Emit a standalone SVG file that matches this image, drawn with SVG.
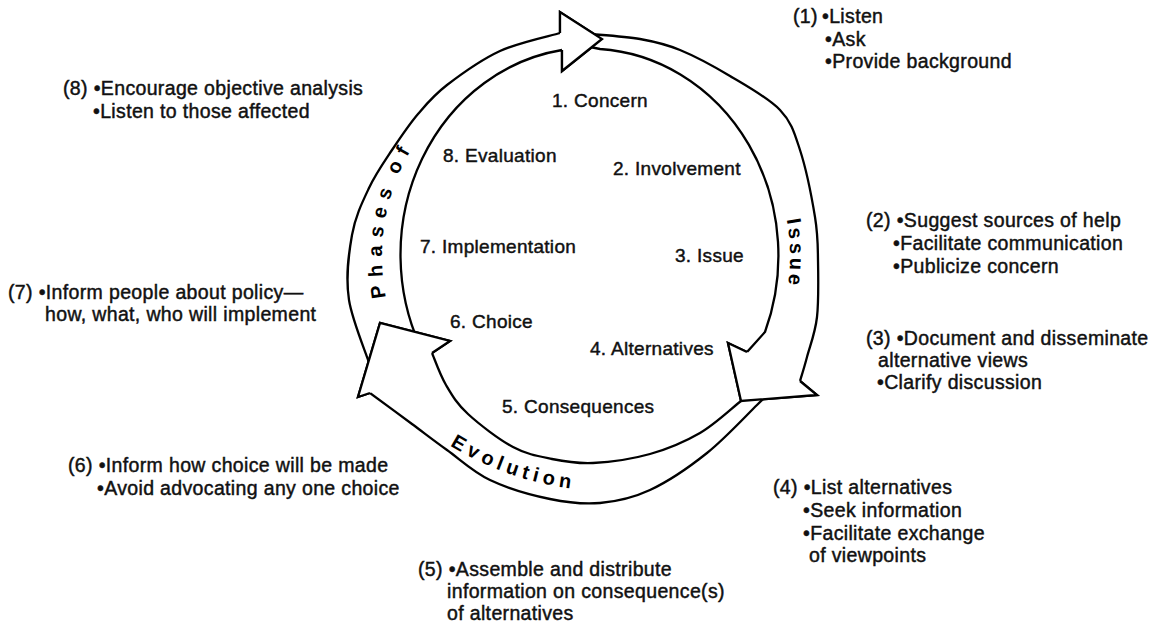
<svg xmlns="http://www.w3.org/2000/svg" width="1158" height="630" viewBox="0 0 1158 630">
<style>
text{font-family:"Liberation Sans",Arial,Helvetica,sans-serif;font-size:19px;fill:#111;stroke:#111;stroke-width:0.45px;letter-spacing:0.3px;}
.side{font-size:19.5px;letter-spacing:0.35px;}
.arc{font-weight:bold;font-size:20px;stroke:none;fill:#000;}
.band,.head{fill:#fff;stroke:#000;stroke-width:2.3;stroke-linejoin:miter;stroke-miterlimit:10;}
</style>
<defs>
<path id="arcPhases" d="M 389.1,310.1 A 209 209 0 0 1 536.9,54.1"/>
<path id="arcIssue" d="M 771.4,171.9 A 199 199 0 0 1 763.3,355.5"/>
<path id="arcEvolution" d="M 415.2,420.1 A 303 303 0 0 0 688.4,480.7"/>
</defs>
<rect width="1158" height="630" fill="#fff"/>
<g id="connectors">
<path id="arrow-phases" class="band" d="M 374,378 C 369.5,360 352.7,323.8 349,300 C 345.3,276.2 348.7,253.7 352,235 C 355.3,216.3 362.3,202.2 369,188 C 375.7,173.8 383.8,162.3 392,150 C 400.2,137.7 408.8,124.8 418,114 C 427.2,103.2 433.3,95.5 447,85 C 460.7,74.5 481.2,59.7 500,51 C 518.8,42.3 550,36 560,33 L 560,12 L 602,39 L 562,71 L 562,50 A 190 207 0 0 0 420,346 Z"/>
<path id="arrow-issue" class="band" d="M 590,34 C 598.3,34.8 625,36.3 640,39 C 655,41.7 665,43.8 680,50 C 695,56.2 713.3,66 730,76 C 746.7,86 768.3,97.7 780,110 C 791.7,122.3 794.2,132.2 800,150 C 805.8,167.8 812,198.7 815,217 C 818,235.3 817.7,243.3 818,260 C 818.3,276.7 818.8,300.8 817,317 C 815.2,333.2 809.8,346.3 807,357 C 804.2,367.7 801.2,377 800,381 L 817,395 L 741,401 L 728,343 L 747,352 L 765,332 A 190 207 0 0 0 600,49 L 590,47 Z"/>
<path id="arrow-evolution" class="band" d="M 767,395 L 757,405 C 747,414.7 724.8,438.8 707,453 C 689.2,467.2 667.8,481.7 650,490 C 632.2,498.3 616.7,501.5 600,503 C 583.3,504.5 568.3,502.8 550,499 C 531.7,495.2 507.2,488.2 490,480 C 472.8,471.8 460,459.3 447,450 C 434,440.7 424.8,433.5 412,424 C 399.2,414.5 377,398.2 370,393 L 358,397 L 380,323 L 450,341 L 432,353 C 434.3,358.3 440,374.8 446,385 C 452,395.2 456.8,403.7 468,414 C 479.2,424.3 499,439.5 513,447 C 527,454.5 538.7,456.3 552,459 C 565.3,461.7 576.7,463.8 593,463 C 609.3,462.2 632.2,459 650,454 C 667.8,449 684.8,441.8 700,433 C 715.2,424.2 732.3,407.7 741,401 L 752,393 Z"/>
<path class="head" d="M 560,33 L 560,12 L 602,39 L 562,71 L 562,50"/>
<path class="head" d="M 800,381 L 817,395 L 741,401 L 728,343 L 747,352"/>
<path class="head" d="M 370,393 L 358,397 L 380,323 L 450,341 L 432,353"/>
</g>
<g id="cycle-labels">
<text class="arc" style="letter-spacing:7.7px;word-spacing:-5px"><textPath href="#arcPhases" startOffset="13">Phases of</textPath></text>
<text class="arc" style="letter-spacing:3.5px"><textPath href="#arcIssue" startOffset="50">Issue</textPath></text>
<text class="arc" style="letter-spacing:4.7px"><textPath href="#arcEvolution" startOffset="43">Evolution</textPath></text>
</g>
<g id="stage-1"><text x="552" y="107">1. Concern</text></g>
<g id="stage-2"><text x="613" y="175">2. Involvement</text></g>
<g id="stage-3"><text x="675" y="262">3. Issue</text></g>
<g id="stage-4"><text x="590" y="355">4. Alternatives</text></g>
<g id="stage-5"><text x="502" y="413">5. Consequences</text></g>
<g id="stage-6"><text x="450" y="328">6. Choice</text></g>
<g id="stage-7"><text x="420" y="253">7. Implementation</text></g>
<g id="stage-8"><text x="443" y="162">8. Evaluation</text></g>
<g id="actions-1"><text class="side"><tspan x="793" y="23">(1)</tspan><tspan x="822" y="23">•Listen</tspan><tspan x="825" y="46">•Ask</tspan><tspan x="825" y="68">•Provide background</tspan></text></g>
<g id="actions-2"><text class="side"><tspan x="866" y="227">(2) •Suggest sources of help</tspan><tspan x="893" y="250">•Facilitate communication</tspan><tspan x="893" y="273">•Publicize concern</tspan></text></g>
<g id="actions-3"><text class="side"><tspan x="866" y="345">(3) •Document and disseminate</tspan><tspan x="878" y="367">alternative views</tspan><tspan x="877" y="389">•Clarify discussion</tspan></text></g>
<g id="actions-4"><text class="side"><tspan x="773" y="494">(4) •List alternatives</tspan><tspan x="803" y="517">•Seek information</tspan><tspan x="803" y="540">•Facilitate exchange</tspan><tspan x="809" y="562">of viewpoints</tspan></text></g>
<g id="actions-5"><text class="side"><tspan x="418" y="576">(5) •Assemble and distribute</tspan><tspan x="447" y="598">information on consequence(s)</tspan><tspan x="447" y="620">of alternatives</tspan></text></g>
<g id="actions-6"><text class="side"><tspan x="68" y="472">(6) •Inform how choice will be made</tspan><tspan x="97" y="495">•Avoid advocating any one choice</tspan></text></g>
<g id="actions-7"><text class="side"><tspan x="8" y="299">(7) •Inform people about policy—</tspan><tspan x="45" y="321">how, what, who will implement</tspan></text></g>
<g id="actions-8"><text class="side"><tspan x="63" y="95">(8) •Encourage objective analysis</tspan><tspan x="93" y="118">•Listen to those affected</tspan></text></g>
</svg>
